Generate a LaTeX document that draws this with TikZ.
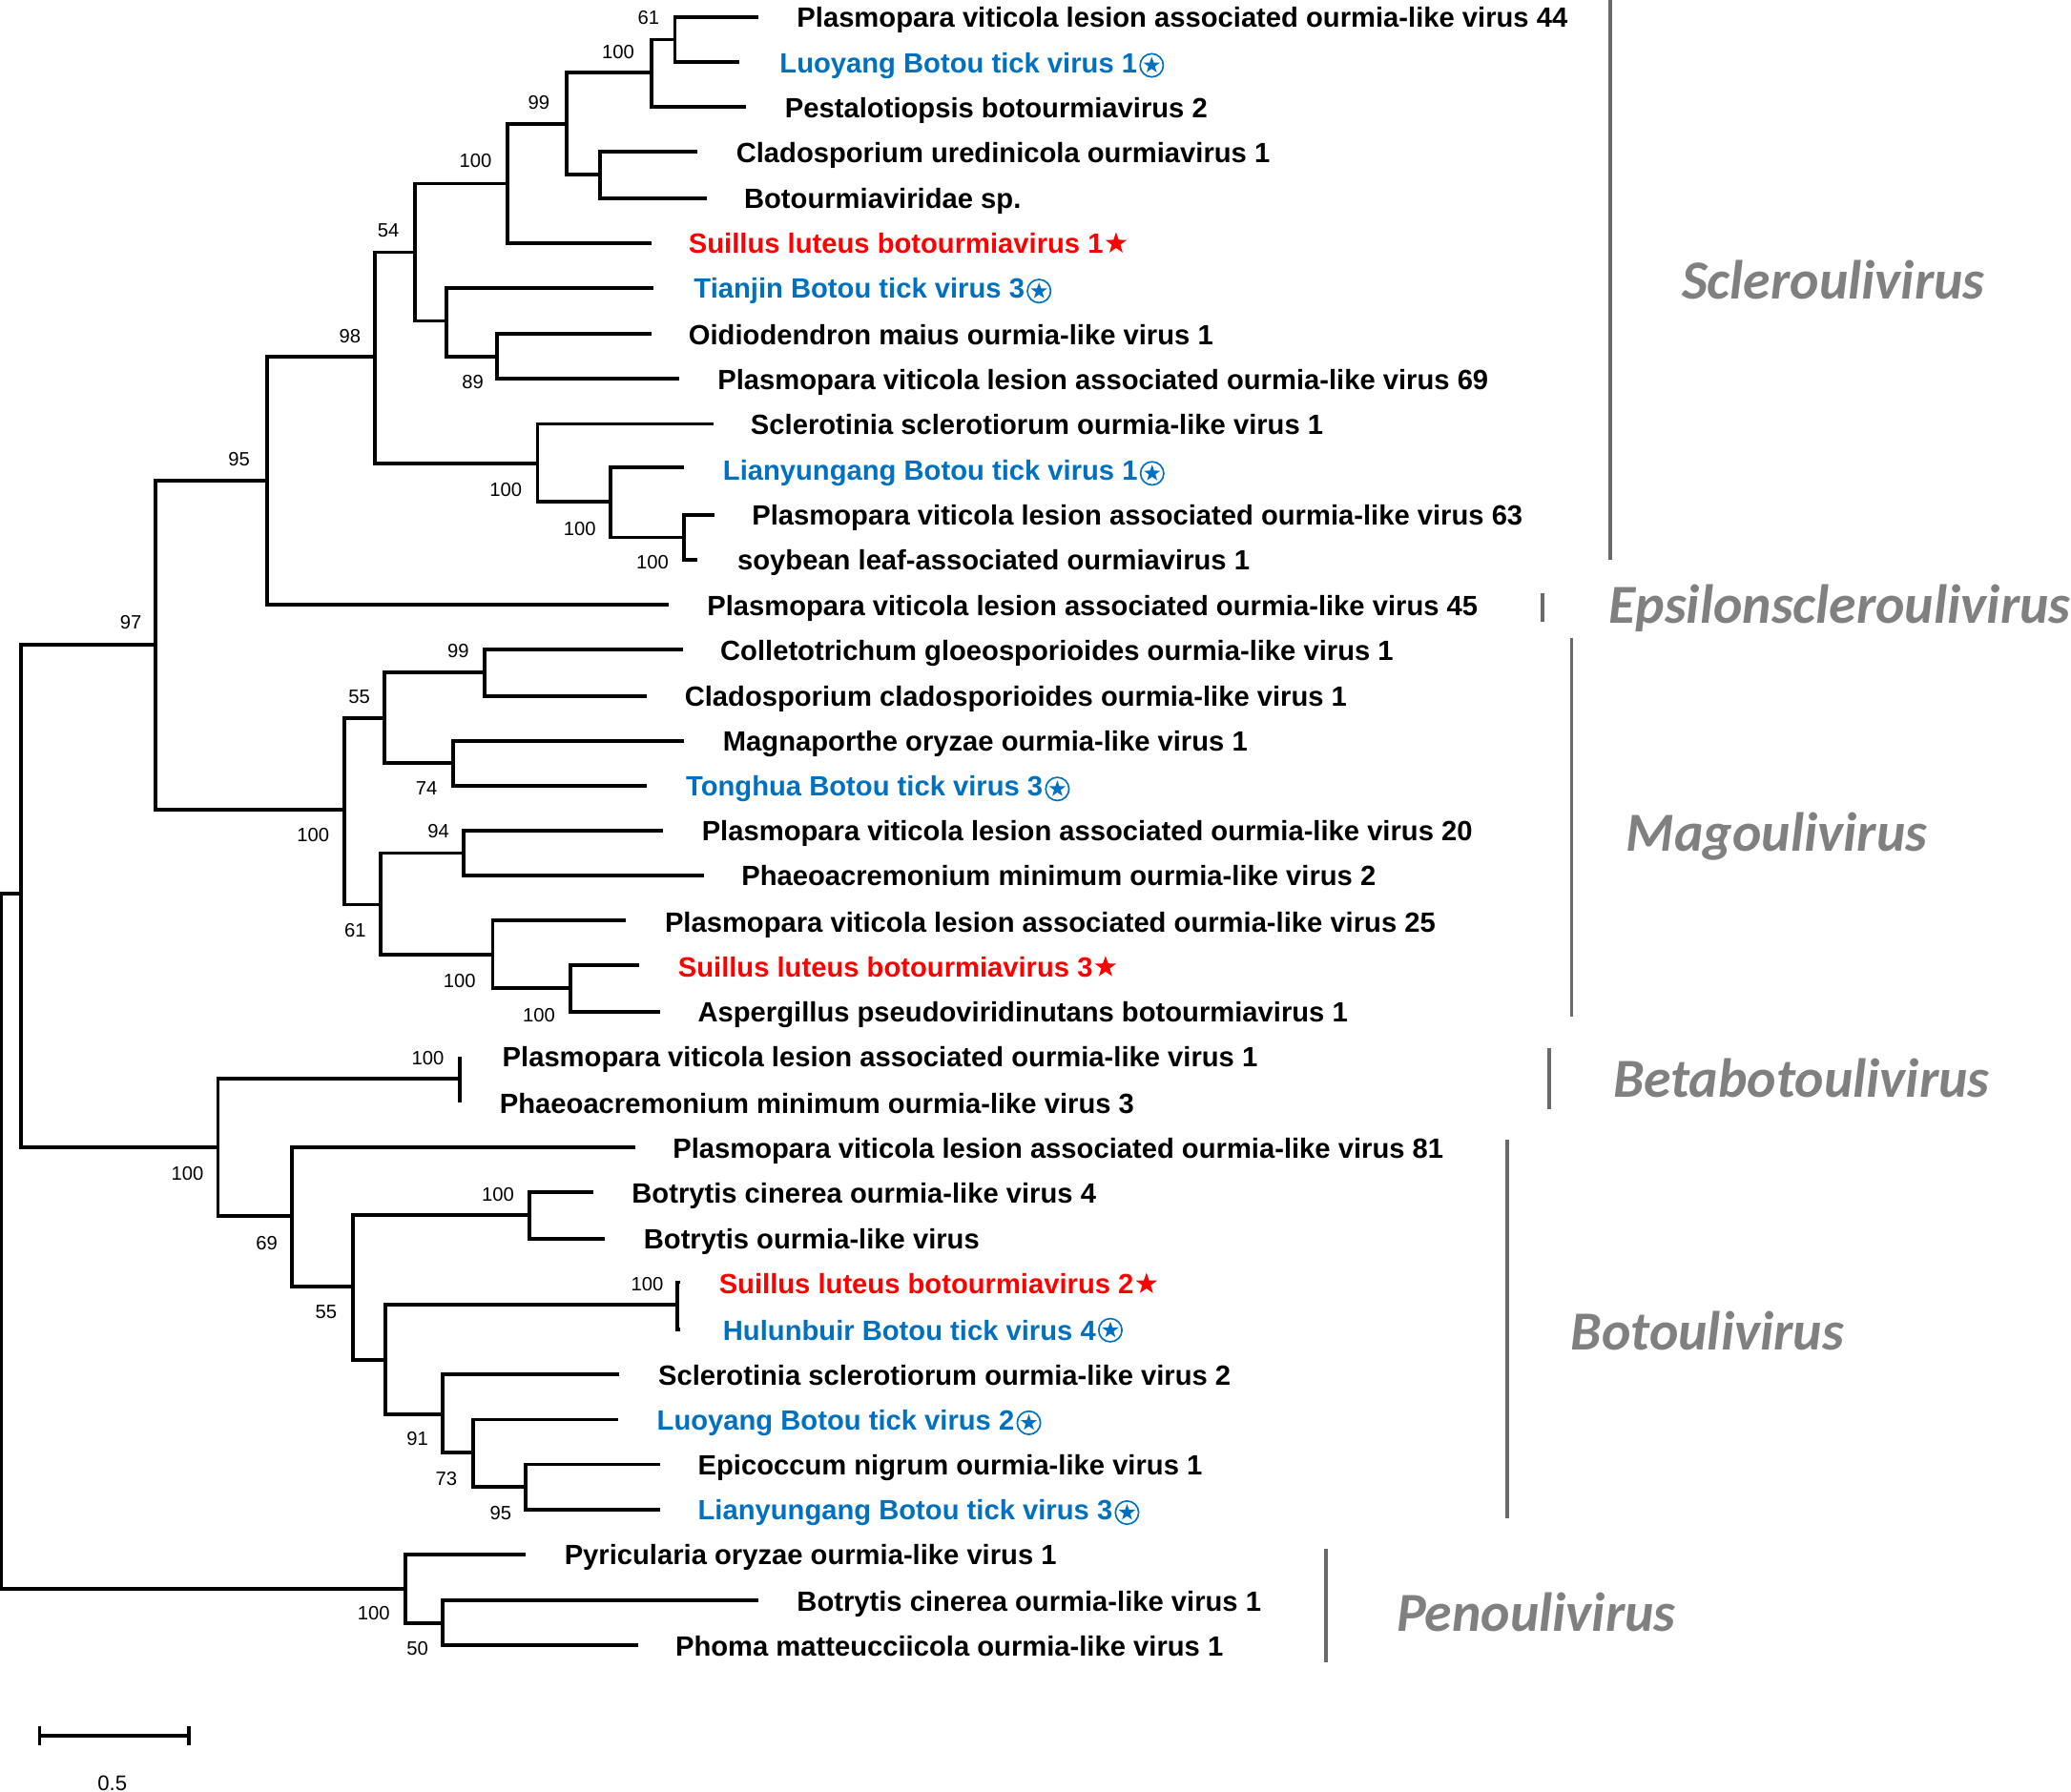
\documentclass[tikz,border=0pt]{standalone}
\usepackage{fontspec}
\setmainfont{Liberation Sans}
\newfontfamily\genusfont{Carlito}
\usetikzlibrary{shapes.geometric,positioning}
\definecolor{tickblue}{HTML}{0070C0}
\definecolor{genusgray}{HTML}{808080}
\definecolor{bargray}{HTML}{6A6A6A}
\tikzset{
  br/.style={line width=1.4pt,black,line join=miter},
  lab/.style={anchor=mid west,inner sep=0pt,yshift=-1.3pt,font=\fontsize{10.54}{12}\selectfont\bfseries,black},
  bluelab/.style={lab,text=tickblue},
  redlab/.style={lab,text=red},
  boot/.style={inner sep=0pt,yshift=-0.3pt,font=\fontsize{7.3}{9}\selectfont,black},
  genus/.style={anchor=mid west,inner sep=0pt,yshift=-4pt,font=\fontsize{20.85}{24}\selectfont\genusfont\bfseries\itshape,text=genusgray},
  gbar/.style={line width=1.3pt,bargray},
  redstar/.style={star,star points=5,star point ratio=2.5,fill=red,inner sep=0pt,minimum size=8.5pt},
  bluering/.style={circle,draw=tickblue,line width=.6pt,inner sep=0pt,minimum size=8.8pt},
  bluestar/.style={star,star points=5,star point ratio=2.5,fill=tickblue,inner sep=0pt,minimum size=6.5pt},
}
\newcommand{\edge}[2]{\draw[br] (#1) |- (#2);}
\newcommand{\tickmark}[2]{\node[bluering,right=0.6pt of #1.east,anchor=west] (#2r) {};\node[bluestar] (#2s) at (#2r) {};}
\begin{document}
\begin{tikzpicture}[x=0.5pt,y=-0.5pt]
\useasboundingbox (0,0) rectangle (1568,1356.4);
% labels
\node[lab] (l0) at (603,13) {Plasmopara viticola lesion associated ourmia-like virus 44};
\node[bluelab] (l1) at (590,47) {Luoyang Botou tick virus 1};
\node[lab] (l2) at (594,81) {Pestalotiopsis botourmiavirus 2};
\node[lab] (l3) at (557,115) {Cladosporium uredinicola ourmiavirus 1};
\node[lab] (l4) at (563,150) {Botourmiaviridae sp.};
\node[redlab] (l5) at (521,184) {Suillus luteus botourmiavirus 1};
\node[bluelab] (l6) at (525,218) {Tianjin Botou tick virus 3};
\node[lab] (l7) at (521,253) {Oidiodendron maius ourmia-like virus 1};
\node[lab] (l8) at (543,287) {Plasmopara viticola lesion associated ourmia-like virus 69};
\node[lab] (l9) at (568,321) {Sclerotinia sclerotiorum ourmia-like virus 1};
\node[bluelab] (l10) at (547,356) {Lianyungang Botou tick virus 1};
\node[lab] (l11) at (569,390) {Plasmopara viticola lesion associated ourmia-like virus 63};
\node[lab] (l12) at (558,424) {soybean leaf-associated ourmiavirus 1};
\node[lab] (l13) at (535,458) {Plasmopara viticola lesion associated ourmia-like virus 45};
\node[lab] (l14) at (545,492) {Colletotrichum gloeosporioides ourmia-like virus 1};
\node[lab] (l15) at (518,527) {Cladosporium cladosporioides ourmia-like virus 1};
\node[lab] (l16) at (547,561) {Magnaporthe oryzae ourmia-like virus 1};
\node[bluelab] (l17) at (519,595) {Tonghua Botou tick virus 3};
\node[lab] (l18) at (531,629) {Plasmopara viticola lesion associated ourmia-like virus 20};
\node[lab] (l19) at (561,663) {Phaeoacremonium minimum ourmia-like virus 2};
\node[lab] (l20) at (503,698) {Plasmopara viticola lesion associated ourmia-like virus 25};
\node[redlab] (l21) at (513,732) {Suillus luteus botourmiavirus 3};
\node[lab] (l22) at (528,766) {Aspergillus pseudoviridinutans botourmiavirus 1};
\node[lab] (l23) at (380,800) {Plasmopara viticola lesion associated ourmia-like virus 1};
\node[lab] (l24) at (378,835) {Phaeoacremonium minimum ourmia-like virus 3};
\node[lab] (l25) at (509,869) {Plasmopara viticola lesion associated ourmia-like virus 81};
\node[lab] (l26) at (478,903) {Botrytis cinerea ourmia-like virus 4};
\node[lab] (l27) at (487,938) {Botrytis ourmia-like virus};
\node[redlab] (l28) at (544,972) {Suillus luteus botourmiavirus 2};
\node[bluelab] (l29) at (547,1007) {Hulunbuir Botou tick virus 4};
\node[lab] (l30) at (498,1041) {Sclerotinia sclerotiorum ourmia-like virus 2};
\node[bluelab] (l31) at (497,1075) {Luoyang Botou tick virus 2};
\node[lab] (l32) at (528,1109) {Epicoccum nigrum ourmia-like virus 1};
\node[bluelab] (l33) at (528,1143) {Lianyungang Botou tick virus 3};
\node[lab] (l34) at (427,1177) {Pyricularia oryzae ourmia-like virus 1};
\node[lab] (l35) at (603,1212) {Botrytis cinerea ourmia-like virus 1};
\node[lab] (l36) at (511,1246) {Phoma matteucciicola ourmia-like virus 1};
% markers
\foreach \n in {l5,l21,l28}{\node[redstar,right=2pt of \n.east,anchor=west] (\n s) {};}
\foreach \n in {l1,l6,l10,l17,l29,l31,l33}{\tickmark{\n}{\n}}
% tips
\foreach \n/\x/\y in {0/574/13,1/560/47,2/565/81,3/528/115,4/535/150,5/493/184,6/495/218,7/493/253,8/514/287,9/540/321,10/518/354,11/541/390,12/528/424,13/506/458,14/517/492,15/490/527,16/518/561,17/490/595,18/502/629,19/533/663,20/474/697,21/484/731,22/500/766,23/348/800,24/348/835,25/481/869,26/449/903,27/458/938,28/515/971,29/515/1007,30/469/1041,31/468/1075,32/500/1109,33/500/1143,34/398/1177,35/574/1212,36/483/1246}{\coordinate (t\n) at (\x,\y);}
% internal nodes (x of bar, y of stem)
\coordinate (na) at (511,30);
\coordinate (nb) at (493,55);
\coordinate (nc) at (454,132);
\coordinate (nd) at (429,94);
\coordinate (ne) at (384,139);
\coordinate (nf) at (376,270);
\coordinate (ng) at (338,243);
\coordinate (nh) at (314,191);
\coordinate (ni) at (518,407);
\coordinate (nj) at (462,380);
\coordinate (nk) at (407,351);
\coordinate (nl) at (284,270);
\coordinate (nm) at (202,364);
\coordinate (nn) at (367,509);
\coordinate (no) at (343,578);
\coordinate (np) at (291,544);
\coordinate (nq) at (351,646);
\coordinate (nr) at (432,748);
\coordinate (ns) at (373,723);
\coordinate (nt) at (288,685);
\coordinate (nu) at (261,613);
\coordinate (nv) at (118,488);
\coordinate (nw) at (348,817);
\coordinate (nx) at (401,920);
\coordinate (ny) at (513,988);
\coordinate (nz) at (398,1126);
\coordinate (naa) at (358,1100);
\coordinate (nab) at (335,1071);
\coordinate (nac) at (292,1030);
\coordinate (nad) at (267,974);
\coordinate (nae) at (221,921);
\coordinate (naf) at (165,869);
\coordinate (nag) at (16,677);
\coordinate (nah) at (335,1229);
\coordinate (nai) at (307,1203);
\coordinate (root) at (1,940);
% edges
\edge{na}{t0}\edge{na}{t1}
\edge{nb}{na}\edge{nb}{t2}
\edge{nc}{t3}\edge{nc}{t4}
\edge{nd}{nb}\edge{nd}{nc}
\edge{ne}{nd}\edge{ne}{t5}
\edge{nf}{t7}\edge{nf}{t8}
\edge{ng}{t6}\edge{ng}{nf}
\edge{nh}{ne}\edge{nh}{ng}
\edge{ni}{t11}\edge{ni}{t12}
\edge{nj}{t10}\edge{nj}{ni}
\edge{nk}{t9}\edge{nk}{nj}
\edge{nl}{nh}\edge{nl}{nk}
\edge{nm}{nl}\edge{nm}{t13}
\edge{nn}{t14}\edge{nn}{t15}
\edge{no}{t16}\edge{no}{t17}
\edge{np}{nn}\edge{np}{no}
\edge{nq}{t18}\edge{nq}{t19}
\edge{nr}{t21}\edge{nr}{t22}
\edge{ns}{t20}\edge{ns}{nr}
\edge{nt}{nq}\edge{nt}{ns}
\edge{nu}{np}\edge{nu}{nt}
\edge{nv}{nm}\edge{nv}{nu}
\edge{nw}{t23}\edge{nw}{t24}
\edge{nx}{t26}\edge{nx}{t27}
\edge{ny}{t28}\edge{ny}{t29}
\edge{nz}{t32}\edge{nz}{t33}
\edge{naa}{t31}\edge{naa}{nz}
\edge{nab}{t30}\edge{nab}{naa}
\edge{nac}{ny}\edge{nac}{nab}
\edge{nad}{nx}\edge{nad}{nac}
\edge{nae}{t25}\edge{nae}{nad}
\edge{naf}{nw}\edge{naf}{nae}
\edge{nag}{nv}\edge{nag}{naf}
\edge{nah}{t35}\edge{nah}{t36}
\edge{nai}{t34}\edge{nai}{nah}
\edge{root}{nag}\edge{root}{nai}
% bootstrap values
\foreach \v/\x/\y [count=\i] in {61/491/13,100/468/39,99/408/77,100/360/121,54/294/174,98/265/254,95/181/347,89/358/289,100/383/370,100/439/400,100/494/425,97/99/471,99/347/492,55/272/527,74/323/596,94/332/629,100/237/632,61/269/704,100/348/742,100/408/768,100/324/801,100/142/888,69/202/941,100/377/904,100/490/972,55/247/993,91/316/1089,73/338/1119,95/379/1145,100/283/1221,50/316/1248}{\node[boot] (b\i) at (\x,\y) {\v};}
% genus bars
\coordinate (g1a) at (1219,0);\coordinate (g1b) at (1219,424);
\coordinate (g2a) at (1168,449);\coordinate (g2b) at (1168,471);
\coordinate (g3a) at (1190,483);\coordinate (g3b) at (1190,770);
\coordinate (g4a) at (1173,794);\coordinate (g4b) at (1173,840);
\coordinate (g5a) at (1141,863);\coordinate (g5b) at (1141,1150);
\coordinate (g6a) at (1004,1173);\coordinate (g6b) at (1004,1259);
\foreach \i in {1,...,6}{\draw[gbar] (g\i a) -- (g\i b);}
\node[genus] (g1) at (1273,213) {Scleroulivirus};
\node[genus] (g2) at (1218,459) {Epsilonscleroulivirus};
\node[genus] (g3) at (1231,631) {Magoulivirus};
\node[genus] (g4) at (1221,818) {Betabotoulivirus};
\node[genus] (g5) at (1189,1009) {Botoulivirus};
\node[genus] (g6) at (1057,1222) {Penoulivirus};
% scale bar
\coordinate (sa) at (30,1314.5);\coordinate (sb) at (143,1314.5);
\coordinate (sa1) at (30,1307);\coordinate (sa2) at (30,1322);
\coordinate (sb1) at (143,1307);\coordinate (sb2) at (143,1322);
\draw[br] (sa) -- (sb);\draw[br] (sa1) -- (sa2);\draw[br] (sb1) -- (sb2);
\node[boot,font=\fontsize{8}{9}\selectfont] (sl) at (85,1350) {0.5};
\end{tikzpicture}
\end{document}
